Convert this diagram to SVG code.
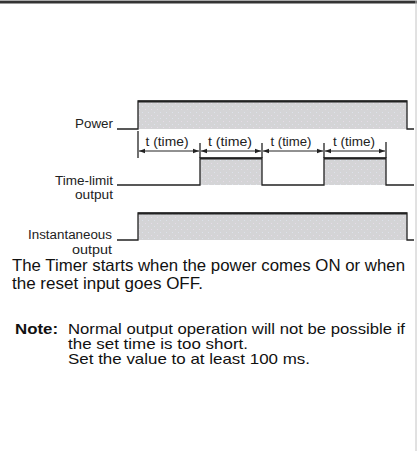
<svg xmlns="http://www.w3.org/2000/svg" width="417" height="451" viewBox="0 0 417 451">
<defs>
<pattern id="dots" width="6" height="6" patternUnits="userSpaceOnUse">
<rect width="6" height="6" fill="#d4d4d6"/>
<rect x="1" y="1" width="1" height="1" fill="#e6dce8"/>
<rect x="4" y="4" width="1" height="1" fill="#dde2ea"/>
</pattern>
<marker id="ah" viewBox="0 0 6 6" refX="6" refY="3" markerWidth="6" markerHeight="6" markerUnits="userSpaceOnUse" orient="auto-start-reverse">
<path d="M0,0.8 L6,3 L0,5.2 Z" fill="#222"/>
</marker>
<style>
.sig{fill:none;stroke:#222;stroke-width:1.3}
.top{stroke:#222;stroke-width:2.2}
.fill{fill:url(#dots)}
.lbl{font-family:"Liberation Sans",Arial,sans-serif;font-size:12.5px;fill:#222;text-anchor:end}
.t{font-family:"Liberation Sans",Arial,sans-serif;font-size:12px;fill:#222;text-anchor:middle}
.p{font-family:"Liberation Sans",Arial,sans-serif;font-size:16.5px;fill:#111}
.n{font-family:"Liberation Sans",Arial,sans-serif;font-size:14.5px;fill:#111}
.b{font-weight:bold}
.arr{stroke:#222;stroke-width:1;marker-start:url(#ah);marker-end:url(#ah)}
.tick{stroke:#222;stroke-width:1.3}
</style>
</defs>
<rect width="417" height="451" fill="#fff"/>
<line x1="0" y1="2.3" x2="417" y2="2.3" stroke="#333" stroke-width="2.4"/>
<line x1="0" y1="0.5" x2="417" y2="0.5" stroke="#aaa" stroke-width="1"/>
<line x1="416" y1="0" x2="416" y2="451" stroke="#c4c4c4" stroke-width="1"/>

<g id="power">
<rect class="fill" x="138" y="101" width="269" height="28"/>
<polyline class="sig" points="117,129 138,129 138,101 407,101 407,129 414,129"/>
<line class="top" x1="138" y1="101.5" x2="407" y2="101.5"/>
<text class="lbl" x="113" y="128" textLength="38" lengthAdjust="spacingAndGlyphs">Power</text>
</g>

<g id="time-limit-output">
<rect class="fill" x="200" y="158" width="62" height="27"/>
<rect class="fill" x="324" y="158" width="62" height="27"/>
<polyline class="sig" points="117,185 200,185 200,158 262,158 262,185 324,185 324,158 386,158 386,185 414,185"/>
<line class="top" x1="200" y1="158.5" x2="262" y2="158.5"/>
<line class="top" x1="324" y1="158.5" x2="386" y2="158.5"/>
<text class="lbl" x="113" y="185" textLength="58" lengthAdjust="spacingAndGlyphs">Time-limit</text>
<text class="lbl" x="113" y="199" textLength="38" lengthAdjust="spacingAndGlyphs">output</text>
</g>

<g id="instantaneous-output">
<rect class="fill" x="138" y="213" width="269" height="27"/>
<polyline class="sig" points="117,240 138,240 138,213 407,213 407,240 414,240"/>
<line class="top" x1="138" y1="213.5" x2="407" y2="213.5" stroke-width="3"/>
<text class="lbl" x="112" y="239" textLength="84" lengthAdjust="spacingAndGlyphs">Instantaneous</text>
<text class="lbl" x="112" y="254" textLength="40" lengthAdjust="spacingAndGlyphs">output</text>
</g>

<g id="connectors">
<line class="tick" x1="138" y1="131" x2="138" y2="158"/>
<line class="tick" x1="200" y1="143" x2="200" y2="158"/>
<line class="tick" x1="262" y1="143" x2="262" y2="158"/>
<line class="tick" x1="324" y1="143" x2="324" y2="158"/>
<line class="tick" x1="386" y1="142" x2="386" y2="158"/>
<line class="arr" x1="139" y1="151" x2="199" y2="151"/>
<line class="arr" x1="201" y1="151" x2="261" y2="151"/>
<line class="arr" x1="263" y1="151" x2="323" y2="151"/>
<line class="arr" x1="325" y1="151" x2="385" y2="151"/>
</g>

<g id="time-labels">
<text class="t" x="167" y="146" textLength="43" lengthAdjust="spacingAndGlyphs">t (time)</text>
<text class="t" x="230" y="146" textLength="44" lengthAdjust="spacingAndGlyphs">t (time)</text>
<text class="t" x="291" y="146" textLength="41" lengthAdjust="spacingAndGlyphs">t (time)</text>
<text class="t" x="354" y="146" textLength="42" lengthAdjust="spacingAndGlyphs">t (time)</text>
</g>

<g id="description">
<text class="p" x="12" y="271" textLength="393" lengthAdjust="spacingAndGlyphs">The Timer starts when the power comes ON or when</text>
<text class="p" x="12" y="289" textLength="191" lengthAdjust="spacingAndGlyphs">the reset input goes OFF.</text>
<text class="n b" x="15" y="334" textLength="43" lengthAdjust="spacingAndGlyphs">Note:</text>
<text class="n" x="68" y="334" textLength="337" lengthAdjust="spacingAndGlyphs">Normal output operation will not be possible if</text>
<text class="n" x="68" y="349" textLength="180" lengthAdjust="spacingAndGlyphs">the set time is too short.</text>
<text class="n" x="68" y="364" textLength="242" lengthAdjust="spacingAndGlyphs">Set the value to at least 100 ms.</text>
</g>
</svg>
